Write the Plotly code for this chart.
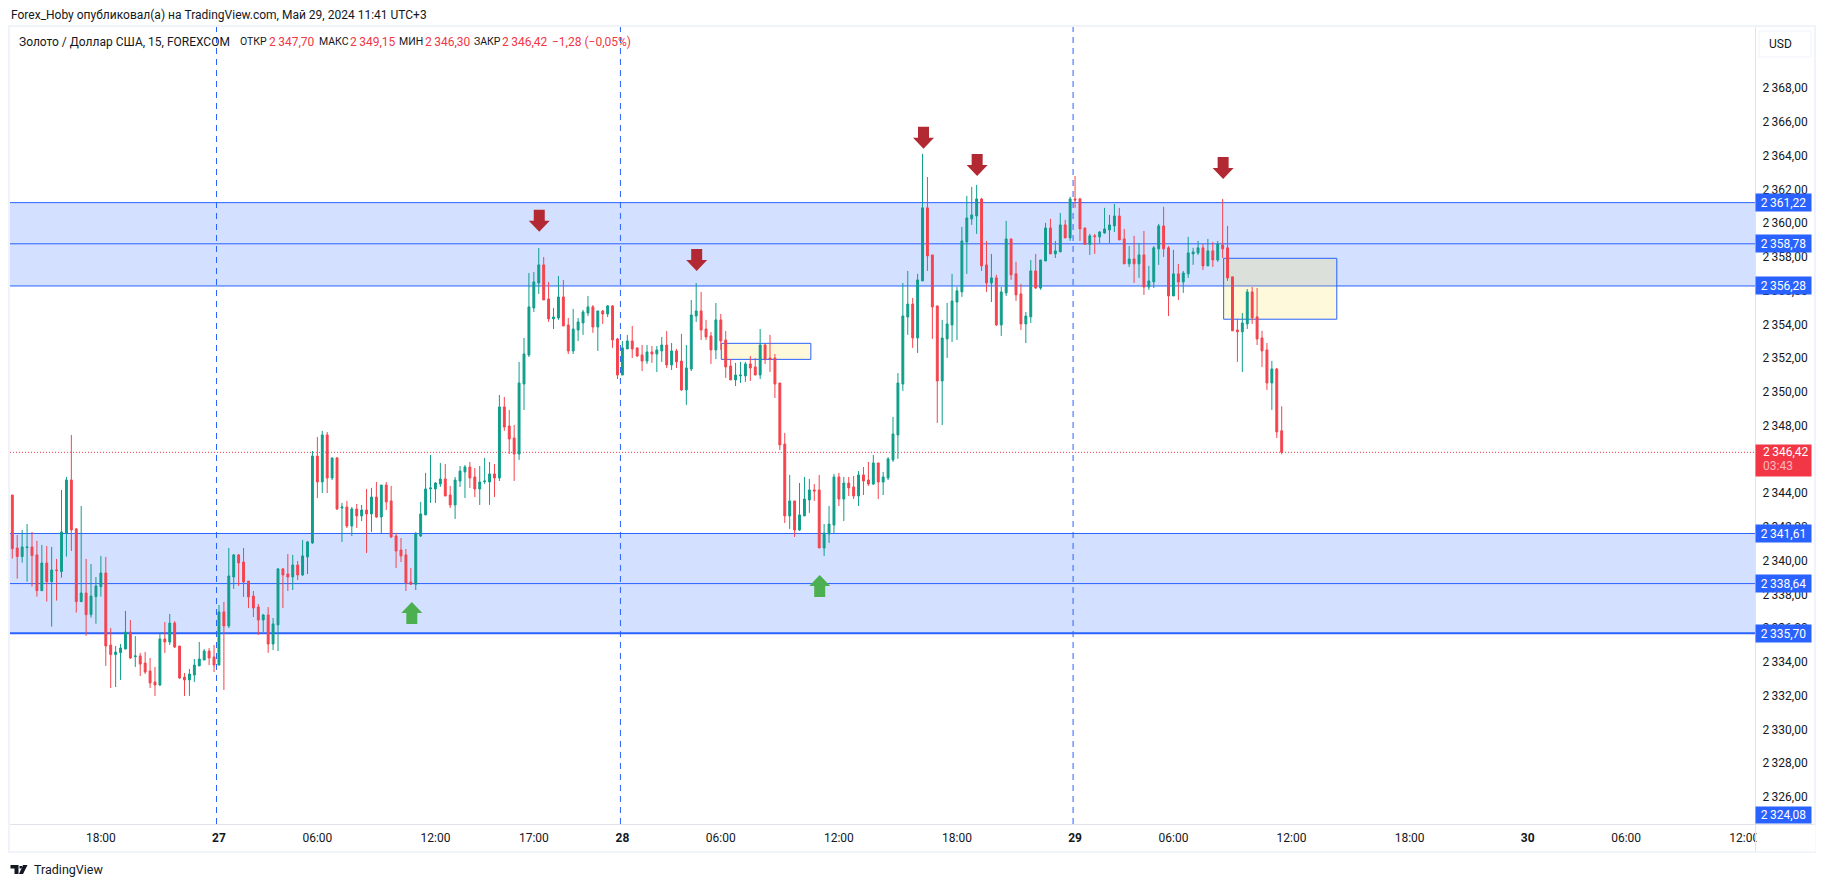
import plotly.graph_objects as go

# gold 15m bars, oldest first
opens = [
    2343.89, 2340.75, 2340.24, 2340.77, 2340.81, 2340.34, 2338.22, 2339.86, 2338.75, 2339.45,
    2339.35, 2341.64, 2344.78, 2341.88, 2337.57, 2338.08, 2336.80, 2337.87, 2338.46, 2339.27,
    2335.00, 2334.43, 2334.55, 2334.76, 2335.77, 2334.31, 2334.35, 2333.93, 2333.46, 2332.81,
    2332.63, 2335.36, 2335.18, 2336.30, 2334.94, 2333.10, 2332.93, 2333.22, 2333.76, 2334.11,
    2334.64, 2334.29, 2333.81, 2336.96, 2336.13, 2339.03, 2340.34, 2339.92, 2338.79, 2337.90,
    2337.25, 2336.48, 2336.78, 2335.06, 2336.19, 2339.51, 2339.21, 2339.03, 2339.74, 2339.15,
    2340.22, 2341.05, 2346.20, 2344.66, 2347.45, 2344.90, 2346.09, 2343.12, 2343.18, 2342.05,
    2343.06, 2342.65, 2343.00, 2342.77, 2343.77, 2342.59, 2344.48, 2343.54, 2341.46, 2340.63,
    2340.34, 2338.73, 2338.60, 2341.46, 2342.71, 2344.25, 2344.25, 2344.54, 2344.84, 2343.89,
    2343.30, 2344.72, 2345.26, 2345.55, 2344.96, 2344.25, 2344.68, 2344.66, 2345.14, 2344.90,
    2349.11, 2347.98, 2347.27, 2346.32, 2350.47, 2352.19, 2354.98, 2356.46, 2357.53, 2355.51,
    2354.33, 2354.38, 2355.63, 2353.97, 2352.43, 2353.67, 2354.09, 2354.68, 2355.04, 2353.85,
    2354.80, 2354.62, 2355.10, 2353.14, 2351.00, 2352.55, 2353.02, 2352.61, 2352.19, 2351.83,
    2352.37, 2352.25, 2352.43, 2352.78, 2351.60, 2352.43, 2351.83, 2350.12, 2351.36, 2354.50,
    2354.80, 2353.73, 2353.32, 2352.49, 2354.27, 2353.08, 2351.54, 2350.71, 2350.95, 2350.95,
    2351.66, 2351.48, 2351.00, 2352.78, 2352.01, 2352.01, 2350.53, 2346.91, 2342.65, 2343.54,
    2341.82, 2342.65, 2343.60, 2344.19, 2344.19, 2340.75, 2341.58, 2342.11, 2344.96, 2343.65,
    2344.60, 2344.37, 2343.83, 2345.08, 2344.78, 2344.54, 2345.79, 2344.66, 2344.90, 2345.97,
    2347.45, 2350.47, 2354.44, 2355.21, 2353.20, 2356.58, 2360.91, 2358.12, 2355.10, 2350.65,
    2353.14, 2353.97, 2355.33, 2355.93, 2358.89, 2360.26, 2360.43, 2361.44, 2357.53, 2356.46,
    2356.76, 2353.97, 2355.87, 2359.07, 2357.00, 2355.81, 2354.03, 2354.45, 2357.17, 2356.16,
    2357.76, 2359.72, 2358.18, 2358.30, 2359.90, 2359.13, 2361.44, 2361.44, 2359.72, 2358.75,
    2359.25, 2359.19, 2359.42, 2359.60, 2359.84, 2360.43, 2359.07, 2357.59, 2357.88, 2357.59,
    2358.12, 2356.22, 2356.52, 2358.48, 2359.84, 2358.54, 2355.69, 2357.00, 2356.52, 2357.00,
    2358.18, 2358.24, 2358.54, 2357.47, 2358.36, 2357.82, 2358.71, 2358.54, 2356.82, 2353.67,
    2353.56, 2354.03, 2355.93, 2354.45, 2353.20, 2352.49, 2350.53, 2351.36, 2347.70,
]
highs = [
    2343.89, 2341.52, 2341.82, 2342.17, 2341.70, 2341.17, 2340.93, 2340.87, 2340.81, 2340.10,
    2344.19, 2344.96, 2347.45, 2341.94, 2343.24, 2340.10, 2339.80, 2339.03, 2340.28, 2340.22,
    2336.01, 2334.94, 2335.06, 2337.02, 2336.48, 2335.53, 2334.53, 2334.59, 2334.23, 2333.70,
    2335.77, 2336.36, 2336.84, 2336.42, 2334.94, 2333.34, 2333.58, 2334.17, 2335.18, 2334.76,
    2334.82, 2335.00, 2337.37, 2337.55, 2340.75, 2340.39, 2340.39, 2340.75, 2338.79, 2338.20,
    2337.43, 2336.84, 2337.25, 2336.60, 2339.56, 2339.56, 2340.39, 2340.34, 2339.98, 2341.22,
    2341.17, 2346.50, 2347.33, 2347.69, 2347.63, 2346.09, 2346.14, 2343.42, 2343.54, 2343.18,
    2343.36, 2343.30, 2344.25, 2344.31, 2344.66, 2344.48, 2344.66, 2344.43, 2341.64, 2341.34,
    2340.69, 2339.56, 2341.70, 2343.48, 2345.20, 2346.26, 2344.66, 2345.79, 2345.73, 2344.43,
    2344.96, 2345.61, 2345.67, 2345.85, 2345.49, 2345.61, 2346.09, 2345.85, 2345.73, 2349.82,
    2349.70, 2348.93, 2348.04, 2351.78, 2353.20, 2357.05, 2357.11, 2358.53, 2358.00, 2356.52,
    2354.98, 2356.87, 2356.64, 2354.38, 2354.92, 2354.38, 2354.86, 2355.69, 2355.15, 2354.80,
    2354.86, 2355.15, 2355.15, 2353.20, 2353.02, 2353.38, 2353.91, 2352.61, 2352.78, 2352.78,
    2352.72, 2352.72, 2353.26, 2353.61, 2352.90, 2352.55, 2353.44, 2352.78, 2355.45, 2356.46,
    2355.93, 2354.27, 2353.55, 2355.27, 2354.62, 2353.61, 2351.95, 2351.72, 2351.78, 2351.78,
    2352.13, 2352.01, 2353.73, 2352.84, 2353.38, 2352.25, 2350.53, 2347.57, 2345.08, 2343.54,
    2344.60, 2344.96, 2344.84, 2344.54, 2345.08, 2342.17, 2343.24, 2345.14, 2345.20, 2344.96,
    2344.96, 2345.02, 2345.31, 2345.55, 2345.85, 2346.26, 2345.79, 2345.26, 2346.14, 2348.52,
    2351.12, 2356.46, 2357.17, 2355.57, 2357.00, 2364.11, 2362.74, 2358.12, 2355.10, 2354.27,
    2355.28, 2357.00, 2356.22, 2359.78, 2361.62, 2362.15, 2362.27, 2361.50, 2358.95, 2358.18,
    2356.94, 2356.22, 2360.14, 2359.07, 2357.71, 2356.40, 2354.74, 2357.82, 2358.18, 2357.82,
    2360.02, 2360.26, 2358.95, 2360.61, 2360.20, 2361.56, 2362.80, 2361.50, 2359.72, 2359.37,
    2359.37, 2359.54, 2360.91, 2360.49, 2361.14, 2360.91, 2359.66, 2358.65, 2359.25, 2358.83,
    2359.54, 2357.47, 2358.65, 2359.96, 2360.97, 2358.65, 2358.42, 2357.59, 2357.17, 2359.19,
    2358.54, 2358.95, 2358.77, 2359.07, 2358.89, 2358.95, 2361.44, 2359.84, 2356.82, 2354.33,
    2354.68, 2356.10, 2356.22, 2356.16, 2353.62, 2352.90, 2351.84, 2351.42, 2349.15,
]
lows = [
    2340.12, 2338.93, 2339.88, 2338.75, 2338.46, 2337.87, 2338.22, 2337.57, 2336.09, 2337.63,
    2338.99, 2340.24, 2340.57, 2336.92, 2337.57, 2335.55, 2336.62, 2336.26, 2337.87, 2333.76,
    2332.45, 2332.51, 2332.93, 2334.76, 2334.17, 2333.70, 2333.16, 2333.28, 2332.45, 2331.98,
    2332.57, 2334.53, 2335.00, 2334.82, 2332.98, 2331.98, 2331.98, 2332.81, 2333.76, 2334.11,
    2333.81, 2333.40, 2333.81, 2332.33, 2336.01, 2338.32, 2338.50, 2337.85, 2337.19, 2336.66,
    2335.59, 2335.77, 2334.53, 2334.70, 2334.64, 2337.19, 2338.20, 2338.26, 2338.85, 2339.09,
    2339.21, 2340.99, 2343.71, 2344.01, 2344.01, 2344.78, 2343.00, 2341.11, 2341.94, 2341.46,
    2341.94, 2342.35, 2340.45, 2341.70, 2342.53, 2341.64, 2343.00, 2341.34, 2339.56, 2339.92,
    2338.20, 2338.56, 2338.26, 2341.40, 2342.71, 2343.42, 2343.42, 2344.37, 2343.83, 2343.12,
    2342.47, 2344.37, 2343.71, 2344.31, 2343.77, 2343.30, 2344.54, 2343.30, 2343.77, 2344.72,
    2347.69, 2346.32, 2344.72, 2345.97, 2348.93, 2352.07, 2354.74, 2355.81, 2355.45, 2354.15,
    2353.73, 2354.27, 2353.91, 2352.25, 2352.25, 2353.02, 2353.38, 2354.50, 2353.50, 2352.43,
    2354.03, 2354.44, 2352.61, 2350.77, 2351.00, 2352.55, 2352.01, 2352.07, 2351.24, 2351.66,
    2351.72, 2351.18, 2351.78, 2351.42, 2351.30, 2351.42, 2350.06, 2349.23, 2351.24, 2354.15,
    2353.08, 2353.08, 2351.66, 2351.95, 2352.49, 2350.83, 2350.71, 2350.35, 2350.53, 2350.59,
    2350.65, 2351.00, 2350.77, 2351.66, 2351.18, 2349.64, 2346.56, 2342.23, 2341.88, 2341.40,
    2341.76, 2342.65, 2342.83, 2343.54, 2340.75, 2340.28, 2341.05, 2341.64, 2343.24, 2342.35,
    2343.83, 2343.65, 2343.24, 2343.89, 2344.43, 2344.48, 2343.65, 2343.89, 2344.78, 2345.85,
    2346.03, 2350.06, 2353.38, 2352.61, 2352.31, 2356.58, 2357.17, 2353.14, 2348.16, 2348.04,
    2352.01, 2352.96, 2353.08, 2355.63, 2357.00, 2359.90, 2359.37, 2357.17, 2355.93, 2355.33,
    2353.91, 2353.32, 2355.69, 2356.64, 2355.39, 2353.67, 2352.90, 2354.09, 2356.10, 2356.05,
    2357.76, 2358.18, 2357.94, 2358.30, 2359.13, 2358.95, 2360.91, 2358.95, 2358.75, 2358.12,
    2358.18, 2358.83, 2359.37, 2358.83, 2359.48, 2359.01, 2357.59, 2357.41, 2356.46, 2356.76,
    2355.75, 2356.05, 2356.16, 2357.53, 2358.00, 2354.50, 2355.69, 2355.45, 2355.87, 2356.76,
    2357.53, 2358.12, 2357.23, 2357.47, 2357.41, 2357.71, 2357.94, 2356.58, 2353.62, 2351.78,
    2351.18, 2353.73, 2354.03, 2352.78, 2351.48, 2350.12, 2348.93, 2347.27, 2346.30,
]
closes = [
    2340.71, 2340.24, 2340.81, 2340.81, 2340.30, 2338.22, 2339.86, 2338.75, 2339.45, 2339.41,
    2341.70, 2344.78, 2341.82, 2337.57, 2338.08, 2336.80, 2337.90, 2338.50, 2339.27, 2334.94,
    2334.43, 2334.58, 2334.82, 2335.77, 2334.23, 2334.35, 2333.87, 2333.40, 2332.75, 2332.63,
    2335.36, 2335.18, 2336.30, 2334.88, 2333.04, 2332.93, 2333.28, 2333.81, 2334.17, 2334.64,
    2334.23, 2333.81, 2336.96, 2336.13, 2339.09, 2340.34, 2339.86, 2338.73, 2337.85, 2337.19,
    2336.48, 2336.78, 2335.06, 2336.25, 2339.51, 2339.15, 2339.03, 2339.74, 2339.15, 2340.28,
    2341.11, 2346.20, 2344.66, 2347.45, 2344.90, 2346.09, 2343.06, 2343.18, 2342.05, 2343.06,
    2342.65, 2343.00, 2342.77, 2343.77, 2342.59, 2344.48, 2343.48, 2341.40, 2340.57, 2340.28,
    2338.68, 2338.60, 2341.58, 2342.77, 2344.25, 2344.31, 2344.60, 2344.84, 2343.83, 2343.30,
    2344.78, 2345.31, 2345.55, 2344.90, 2344.25, 2344.66, 2344.72, 2345.14, 2344.90, 2349.11,
    2347.92, 2347.21, 2346.32, 2350.53, 2352.25, 2355.04, 2356.52, 2357.53, 2355.45, 2354.33,
    2354.44, 2355.63, 2353.91, 2352.43, 2353.73, 2354.15, 2354.74, 2355.04, 2353.85, 2354.80,
    2354.62, 2355.10, 2353.08, 2351.00, 2352.61, 2353.02, 2352.55, 2352.13, 2351.83, 2352.37,
    2352.25, 2352.49, 2352.78, 2351.60, 2352.43, 2351.78, 2350.12, 2351.42, 2354.56, 2354.80,
    2353.67, 2353.26, 2352.49, 2354.27, 2353.02, 2351.48, 2350.71, 2351.00, 2351.00, 2351.66,
    2351.42, 2351.00, 2352.78, 2351.95, 2351.95, 2350.47, 2346.86, 2342.65, 2343.54, 2341.82,
    2342.71, 2343.65, 2344.19, 2344.13, 2340.75, 2341.64, 2342.17, 2344.96, 2343.65, 2344.60,
    2344.31, 2343.83, 2345.08, 2344.72, 2344.54, 2345.79, 2344.66, 2344.96, 2346.03, 2347.51,
    2350.53, 2354.50, 2355.21, 2353.20, 2356.64, 2360.91, 2358.06, 2355.04, 2350.65, 2353.20,
    2354.03, 2355.39, 2355.99, 2358.95, 2360.31, 2360.49, 2361.44, 2357.47, 2356.46, 2356.76,
    2353.97, 2355.93, 2359.07, 2356.94, 2355.75, 2354.03, 2354.50, 2357.17, 2356.16, 2357.82,
    2359.72, 2358.18, 2358.36, 2359.90, 2359.13, 2361.44, 2361.38, 2359.66, 2358.75, 2359.25,
    2359.21, 2359.48, 2359.66, 2359.90, 2360.43, 2359.01, 2357.59, 2357.88, 2357.59, 2358.12,
    2356.22, 2356.58, 2358.54, 2359.84, 2358.48, 2355.69, 2357.00, 2356.52, 2357.05, 2358.24,
    2358.30, 2358.54, 2357.47, 2358.36, 2357.82, 2358.77, 2358.48, 2356.76, 2353.62, 2353.56,
    2354.09, 2355.93, 2354.39, 2353.14, 2352.43, 2350.53, 2351.36, 2347.63, 2346.42,
]
bars = list(range(len(opens)))

time_ticks = [18, 42, 62, 86, 106, 124, 144, 168, 192, 216, 236, 260, 284, 308, 328, 352]
time_labels = ["18:00", "<b>27</b>", "06:00", "12:00", "17:00", "<b>28</b>", "06:00", "12:00",
               "18:00", "<b>29</b>", "06:00", "12:00", "18:00", "<b>30</b>", "06:00", "12:00"]
price_ticks = list(range(2326, 2370, 2))

zones = [(2356.28, 2361.22), (2335.70, 2341.61)]
zone_levels = [2361.22, 2358.78, 2356.28, 2341.61, 2338.64, 2335.70]
last_price = 2346.42
session_lines = [41.5, 123.6, 215.6]
boxes = [(144.1, 162.3, 2351.93, 2352.88), (246.2, 269.2, 2354.31, 2357.92)]
arrows_down = [(107.1, 2359.50), (139.1, 2357.17), (185.2, 2364.42), (196.1, 2362.80), (246.1, 2362.62)]
arrows_up = [(81.2, 2337.55), (164.1, 2339.15)]
ohlc_header = [("ОТКР", "2\u2009347,70", 239, 268), ("МАКС", "2\u2009349,15", 318, 349),
               ("МИН", "2\u2009346,30", 398, 424), ("ЗАКР", "2\u2009346,42", 473, 501)]

INK = "#131722"
UP = "#0f9e8b"
DOWN = "#f4444e"
LAST = "#f23645"
BLUE = "#2962ff"
FONT = "Roboto"


def xp(px):
    return (px - 10) / 1745


def yp(py):
    return (824 - py) / 797


def fmt(p):
    return f"{p:,.2f}".replace(",", "\u2009").replace(".", ",")


def text(px, py, s, color=INK, size=12, anchor="left"):
    return dict(xref="paper", yref="paper", x=xp(px), y=yp(py), text=s, showarrow=False,
                xanchor=anchor, yanchor="middle", font=dict(family=FONT, size=size, color=color),
                borderpad=0)


def rect(x0, y0, x1, y1, fill):
    return dict(type="rect", xref="paper", yref="paper", x0=xp(x0), x1=xp(x1), y0=yp(y0), y1=yp(y1),
                fillcolor=fill, line=dict(width=0), layer="above")


fig = go.Figure(go.Candlestick(
    x=bars, open=opens, high=highs, low=lows, close=closes,
    increasing=dict(line=dict(color=UP, width=1), fillcolor=UP),
    decreasing=dict(line=dict(color=DOWN, width=1), fillcolor=DOWN),
    whiskerwidth=0, hoverinfo="skip", showlegend=False,
))

shapes = []
for lo, hi in zones:
    shapes.append(dict(type="rect", xref="paper", yref="y", x0=0, x1=1, y0=lo, y1=hi,
                       fillcolor="rgba(41,98,255,0.2)", line=dict(width=0), layer="below"))
for lv in zone_levels:
    shapes.append(dict(type="line", xref="paper", yref="y", x0=0, x1=1, y0=lv, y1=lv, layer="below",
                       line=dict(color=BLUE, width=2 if lv == 2335.70 else 1)))
for x in session_lines:
    shapes.append(dict(type="line", xref="x", yref="paper", x0=x, x1=x, y0=0, y1=1, layer="below",
                       line=dict(color=BLUE, width=1, dash="6px,5px")))
shapes.append(dict(type="line", xref="paper", yref="y", x0=0, x1=1, y0=last_price, y1=last_price,
                   layer="below", line=dict(color=LAST, width=1, dash="1px,2px")))
for x0, x1, lo, hi in boxes:
    shapes.append(dict(type="rect", xref="x", yref="y", x0=x0, x1=x1, y0=lo, y1=hi, layer="below",
                       fillcolor="rgba(250,225,75,0.2)", line=dict(color=BLUE, width=1)))

ARROW = "M 0 0 L -10.5 {a} L -5.5 {a} L -5.5 {b} L 5.5 {b} L 5.5 {a} L 10.5 {a} Z"
for x, p in arrows_down:
    shapes.append(dict(type="path", xsizemode="pixel", ysizemode="pixel", xref="x", yref="y", xanchor=x,
                       yanchor=p, path=ARROW.format(a=11, b=22), fillcolor="#b22833", line=dict(width=0)))
for x, p in arrows_up:
    shapes.append(dict(type="path", xsizemode="pixel", ysizemode="pixel", xref="x", yref="y", xanchor=x,
                       yanchor=p, path=ARROW.format(a=-11, b=-22), fillcolor="#4caf50", line=dict(width=0)))

# pane frame and scale separators
shapes += [
    rect(8, 25, 1816, 27, "#f0f3fa"), rect(8, 851, 1816, 853, "#f0f3fa"),
    rect(8, 25, 10, 853, "#f0f3fa"), rect(1814, 25, 1816, 853, "#f0f3fa"),
    rect(1755, 27, 1756, 851, "#e0e3eb"), rect(10, 824, 1814, 825, "#e0e3eb"),
    dict(type="rect", xref="paper", yref="paper", x0=xp(1759), x1=xp(1811), y0=yp(31), y1=yp(57),
         line=dict(color="#f0f3fa", width=1), fillcolor="white", layer="above"),
    # logo
    dict(type="path", xref="paper", yref="paper", fillcolor=INK, line=dict(width=0), layer="above",
         path=" ".join([
             f"M {xp(10.5)} {yp(865)} L {xp(18.5)} {yp(865)} L {xp(18.5)} {yp(874)} L {xp(14.5)} {yp(874)}"
             f" L {xp(14.5)} {yp(868.5)} L {xp(10.5)} {yp(868.5)} Z",
             f"M {xp(19.5)} {yp(866)} L {xp(22)} {yp(866)} L {xp(22)} {yp(868.5)} L {xp(19.5)} {yp(868.5)} Z",
             f"M {xp(23)} {yp(865)} L {xp(27.5)} {yp(865)} L {xp(23)} {yp(874)} L {xp(19)} {yp(874)} Z",
         ])),
]

annotations = [
    text(10, 15, "Forex_Hoby опубликовал(а) на TradingView.com, Май 29, 2024 11:41 UTC+3", size=12),
    text(18, 41.5, "Золото / Доллар США, 15, FOREXCOM", size=12),
    text(551, 41.5, "−1,28 (−0,05%)", color=LAST, size=12),
    text(1768, 44, "USD", size=12),
    text(32.5, 870, "TradingView", size=12.5),
    # hides the end of the last time label under the price scale
    dict(xref="paper", yref="paper", x=xp(1756), y=yp(825), xanchor="left", yanchor="top", text=" ",
         showarrow=False, width=58, height=25, bgcolor="white", borderpad=0),
]
for name, val, xa, xb in ohlc_header:
    annotations.append(text(xa, 41.5, name, size=10.5))
    annotations.append(text(xb, 41.5, val, color=LAST, size=12))

for lv in zone_levels:
    annotations.append(dict(xref="paper", yref="y", x=xp(1755), y=lv, xanchor="left", yanchor="middle",
                            text=fmt(lv), showarrow=False, width=55, height=17, bgcolor=BLUE, borderpad=0,
                            align="center", font=dict(family=FONT, size=12, color="white")))
annotations.append(dict(xref="paper", yref="paper", x=xp(1755), y=yp(824), xanchor="left", yanchor="bottom",
                        text=fmt(2324.08), showarrow=False, width=55, height=16, bgcolor=BLUE, borderpad=0,
                        align="center", font=dict(family=FONT, size=12, color="white")))
annotations.append(dict(xref="paper", yref="paper", x=xp(1755), y=yp(444), xanchor="left", yanchor="top",
                        text=" ", showarrow=False, width=55, height=31, bgcolor=LAST, borderpad=0))
annotations.append(text(1762, 452, fmt(last_price), color="white"))
annotations.append(text(1762, 466, "03:43", color="#fbb6bd"))

fig.update_layout(
    width=1825, height=887, autosize=False,
    margin=dict(l=10, r=70, t=27, b=63),
    paper_bgcolor="white", plot_bgcolor="white",
    boxgap=0.45,
    font=dict(family=FONT, size=12, color=INK),
    shapes=shapes, annotations=annotations,
    xaxis=dict(range=[-0.47, 354.2], rangeslider=dict(visible=False), showgrid=False, zeroline=False,
               showline=False, tickmode="array", tickvals=time_ticks, ticktext=time_labels,
               ticks="outside", ticklen=3, tickcolor="rgba(0,0,0,0)",
               tickfont=dict(family=FONT, size=12, color=INK)),
    yaxis=dict(range=[2324.39, 2371.63], side="right", showgrid=False, zeroline=False, showline=False,
               tickmode="array", tickvals=price_ticks, ticktext=[fmt(p) for p in price_ticks],
               ticks="outside", ticklen=4, tickcolor="rgba(0,0,0,0)",
               tickfont=dict(family=FONT, size=12, color=INK)),
)

fig.write_html("out.html", config=dict(displayModeBar=False),
               post_script="document.body.style.margin='0';document.body.style.overflow='hidden';")
